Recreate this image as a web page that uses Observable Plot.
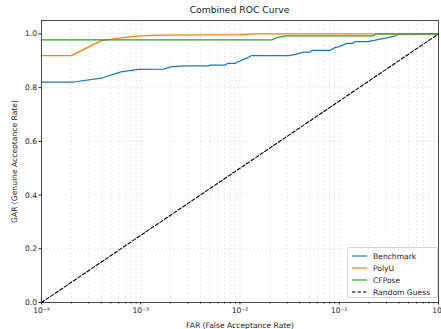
<!DOCTYPE html>
<html>
<head>
<meta charset="utf-8">
<script src="https://cdn.jsdelivr.net/npm/d3@7"></script>
<script src="https://cdn.jsdelivr.net/npm/@observablehq/plot@0.6"></script>
<style>
  body { margin: 0; background: #fff; font-family: "DejaVu Sans", sans-serif; }
  #wrap { position: relative; width: 441px; height: 329px; }
  #title { position: absolute; left: 41px; width: 397px; top: 4px; text-align: center; font-size: 9.2px; color: #222; }
  #legend { position: absolute; left: 347px; top: 247px; width: 89px; height: 49px; border: 1px solid #d6d6d6; border-radius: 2px; background: rgba(255,255,255,0.85); font-size: 7.6px; color: #222; }
  .row { position: absolute; left: 4px; height: 10px; display: flex; align-items: center; }
  .row svg { margin-right: 6px; }
</style>
</head>
<body>
<div id="wrap">
  <div id="chart"></div>
  <div id="title">Combined ROC Curve</div>
  <div id="legend"></div>
</div>
<script>
const seriesNames = ["Benchmark", "PolyU", "CFPose", "Random Guess"];
const seriesColors = ["#1f77b4", "#ff7f0e", "#2ca02c", "#000000"];

const benchFar = [1e-4, 2.1e-4, 4e-4, 6.3e-4, 9.5e-4, 1.7e-3, 2e-3, 2.7e-3, 4.8e-3, 5e-3, 7e-3, 7.5e-3, 9e-3, 9.4e-3, 1e-2, 1.15e-2, 1.3e-2, 3.1e-2, 3.6e-2, 4.4e-2, 5.1e-2, 5.3e-2, 8.1e-2, 9e-2, 0.1, 0.12, 0.135, 0.145, 0.195, 0.29, 0.37, 0.4, 1];
const benchGar = [0.821, 0.821, 0.835, 0.859, 0.868, 0.869, 0.877, 0.881, 0.881, 0.884, 0.884, 0.89, 0.89, 0.896, 0.899, 0.909, 0.919, 0.919, 0.924, 0.932, 0.932, 0.939, 0.939, 0.949, 0.953, 0.965, 0.965, 0.971, 0.971, 0.984, 0.993, 0.999, 1.0];

const polyFar = [1e-4, 2e-4, 4e-4, 6.7e-4, 1e-3, 1.7e-3, 1e-2, 1.4e-2, 1];
const polyGar = [0.919, 0.919, 0.975, 0.986, 0.993, 0.996, 0.997, 1.0, 1.0];

const cfFar = [1e-4, 2.1e-2, 2.35e-2, 2.9e-2, 0.22, 0.235, 1];
const cfGar = [0.978, 0.978, 0.986, 0.993, 0.993, 1.0, 1.0];

const randFar = [1e-4, 1];
const randGar = [0, 1];

const xMajor = [1e-4, 1e-3, 1e-2, 1e-1, 1];
const xMajorLabels = ["10\u207B\u2074", "10\u207B\u00B3", "10\u207B\u00B2", "10\u207B\u00B9", "10\u2070"];
const yTicks = [0, 0.2, 0.4, 0.6, 0.8, 1.0];

const xMinor = [];
for (let e = -4; e < 0; e++) for (let m = 2; m <= 9; m++) xMinor.push(m * Math.pow(10, e));

const toRows = (xs, ys, name) => xs.map((x, i) => ({far: x, gar: ys[i], name}));
const bench = toRows(benchFar, benchGar, seriesNames[0]);
const poly = toRows(polyFar, polyGar, seriesNames[1]);
const cf = toRows(cfFar, cfGar, seriesNames[2]);
const rand = toRows(randFar, randGar, seriesNames[3]);

const gridStyle = {stroke: "#b0b0b0", strokeOpacity: 0.45, strokeWidth: 0.6, strokeDasharray: "2,2"};

const chart = Plot.plot({
  width: 441,
  height: 329,
  marginTop: 20,
  marginRight: 3,
  marginBottom: 27,
  marginLeft: 41,
  style: {fontFamily: "DejaVu Sans, sans-serif", fontSize: "7.6px", color: "#222", background: "#fff"},
  x: {type: "log", domain: [1e-4, 1]},
  y: {domain: [0, 1.05]},
  marks: [
    Plot.gridX(xMajor, gridStyle),
    Plot.gridX(xMinor, gridStyle),
    Plot.gridY(yTicks, gridStyle),
    Plot.line(bench, {x: "far", y: "gar", stroke: seriesColors[0], strokeWidth: 1.25}),
    Plot.line(poly, {x: "far", y: "gar", stroke: seriesColors[1], strokeWidth: 1.25}),
    Plot.line(cf, {x: "far", y: "gar", stroke: seriesColors[2], strokeWidth: 1.25}),
    Plot.line(rand, {x: "far", y: "gar", stroke: seriesColors[3], strokeWidth: 1.1, strokeDasharray: "3.5,2"}),
    Plot.frame({stroke: "#222", strokeWidth: 0.8}),
    Plot.axisX(xMinor, {tickSize: 1.5, tickFormat: () => "", label: null, stroke: "#222"}),
    Plot.axisX(xMajor, {tickSize: 2.5, tickPadding: 2.5, tickFormat: (d, i) => xMajorLabels[xMajor.indexOf(d)], label: "FAR (False Acceptance Rate)", labelAnchor: "center", labelArrow: "none", labelOffset: 25, stroke: "#222"}),
    Plot.axisY(yTicks, {tickSize: 2.5, tickPadding: 2, tickFormat: d => d.toFixed(1), label: "GAR (Genuine Acceptance Rate)", labelAnchor: "center", labelArrow: "none", labelOffset: 30, stroke: "#222"})
  ]
});
document.getElementById("chart").appendChild(chart);

const legend = document.getElementById("legend");
seriesNames.forEach((name, i) => {
  const row = document.createElement("div");
  row.className = "row";
  row.style.top = (3 + i * 12) + "px";
  const dash = i === 3 ? ' stroke-dasharray="3.5,2"' : "";
  row.innerHTML = `<svg width="15" height="4"><line x1="0" y1="2" x2="15" y2="2" stroke="${seriesColors[i]}" stroke-width="1.2"${dash}/></svg><span>${name}</span>`;
  legend.appendChild(row);
});
</script>
</body>
</html>
